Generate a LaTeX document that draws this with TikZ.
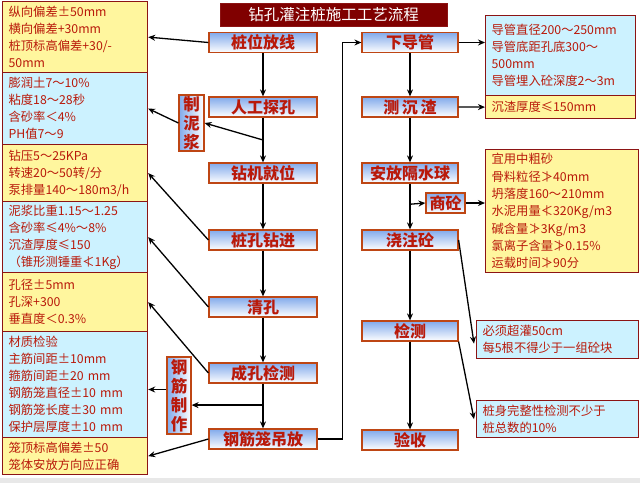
\documentclass[tikz,border=0pt]{standalone}
\usepackage{fontspec}
\setmainfont{Noto Sans CJK SC}
\usetikzlibrary{arrows.meta,calc}
\definecolor{ylw}{RGB}{255,246,158}
\definecolor{cyn}{RGB}{204,242,255}
\definecolor{sborder}{RGB}{140,20,20}
\definecolor{tred}{RGB}{185,25,10}
\definecolor{cborder}{RGB}{190,70,20}
\definecolor{cblue}{RGB}{130,170,235}
\definecolor{ttl}{RGB}{128,0,0}
\begin{document}
\begin{tikzpicture}[x=1pt,y=-1pt,
  sbox/.style={draw=sborder, line width=1.2pt, anchor=north west, align=left, inner xsep=6pt, inner ysep=2pt, text=tred, font=\fontsize{12.3}{17}\selectfont},
  cbox/.style={draw=cborder, line width=1.2pt, top color=cblue, bottom color=white, minimum height=20pt, inner sep=0pt, text=tred, font=\bfseries\fontsize{16}{16}\selectfont},
  vbox/.style={draw=cborder, line width=1.2pt, left color=cblue, right color=white, inner sep=0pt, align=center, text=tred, font=\bfseries\fontsize{16.5}{19}\selectfont},
  arr/.style={-{Stealth[length=7pt,width=6pt]}, line width=1.3pt}]
\useasboundingbox (0,0) rectangle (640,483);
\fill[white] (0,0) rectangle (640,483);
\fill[gray!18] (0,478) rectangle (640,483);

% title
\node[fill=ttl, draw=sborder, minimum width=227pt, minimum height=23pt, inner sep=0pt, text=white, font=\fontsize{15.5}{15.5}\selectfont] (title) at (333.5,14.5) {钻孔灌注桩施工工艺流程};

% left column boxes
\node[sbox, fill=ylw, minimum height=71pt, text width=133pt] (L1) at (2,1) {纵向偏差±50mm\\横向偏差+30mm\\桩顶标高偏差+30/-\\50mm};
\node[sbox, fill=cyn, minimum height=72pt, text width=133pt] (L2) at (2,72) {膨润土7～10\%\\粘度18～28秒\\含砂率＜4\%\\PH值7～9};
\node[sbox, fill=ylw, minimum height=57pt, text width=133pt] (L3) at (2,144) {钻压5～25KPa\\转速20～50转/分\\泵排量140～180m3/h};
\node[sbox, fill=cyn, minimum height=71pt, text width=133pt] (L4) at (2,201) {泥浆比重1.15～1.25\\含砂率≤4\%～8\%\\沉渣厚度≤150\\（锥形测锤重≮1Kg）};
\node[sbox, fill=ylw, minimum height=59pt, text width=133pt] (L5) at (2,272) {孔径±5mm\\孔深+300\\垂直度＜0.3\%};
\node[sbox, fill=cyn, minimum height=106pt, text width=133pt] (L6) at (2,331) {材质检验\\主筋间距±10mm\\箍筋间距±20 mm\\钢筋笼直径±10 mm\\钢筋笼长度±30 mm\\保护层厚度±10 mm};
\node[sbox, fill=ylw, minimum height=37pt, text width=133pt] (L7) at (2,437) {笼顶标高偏差±50\\笼体安放方向应正确};

% right column boxes
\node[sbox, fill=cyn, minimum height=80pt, text width=138pt] (R1) at (485,15) {导管直径200～250mm\\导管底距孔底300～\\500mm\\导管埋入砼深度2～3m};
\node[sbox, fill=ylw, minimum height=23pt, text width=138pt] (R2) at (485,95) {沉渣厚度≤150mm};
\node[sbox, fill=ylw, minimum height=123pt, text width=141pt, font=\fontsize{12.3}{17.3}\selectfont] (R3) at (485,149) {宜用中粗砂\\骨料粒径≯40mm\\坍落度160～210mm\\水泥用量≮320Kg/m3\\碱含量≯3Kg/m3\\氯离子含量≯0.15\%\\运载时间≯90分};
\node[sbox, fill=cyn, minimum height=38pt, text width=150pt] (R4) at (476,320) {必须超灌50cm\\每5根不得少于一组砼块};
\node[sbox, fill=cyn, minimum height=37pt, text width=150pt] (R5) at (476,400) {桩身完整性检测不少于\\桩总数的10\%};

% centre left
\node[cbox, minimum width=108pt] (zwfx) at (263,42.5) {桩位放线};
\node[cbox, minimum width=108pt] (rgtk) at (263,107) {人工探孔};
\node[cbox, minimum width=108pt] (zjjw) at (263,173) {钻机就位};
\node[cbox, minimum width=108pt] (zkzj) at (263,240) {桩孔钻进};
\node[cbox, minimum width=108pt] (qk) at (263,307) {清孔};
\node[cbox, minimum width=108pt] (ckjc) at (263,373) {成孔检测};
\node[cbox, minimum width=108pt] (gjl) at (263,439) {钢筋笼吊放};

% centre right
\node[cbox, minimum width=96pt] (xdg) at (410,42.5) {下导管};
\node[cbox, minimum width=96pt] (ccz) at (410,107) {测\,沉\,渣};
\node[cbox, minimum width=96pt] (afgs) at (410,173) {安放隔水球};
\node[cbox, minimum width=96pt] (jzt) at (410,240) {浇注砼};
\node[cbox, minimum width=96pt] (jc) at (410,331) {检测};
\node[cbox, minimum width=96pt] (ys) at (410,440) {验收};
\node[cbox, minimum width=39pt] (sd) at (445.5,203) {商砼};

% vertical boxes
\node[vbox, minimum width=25pt, minimum height=56pt] (znj) at (191.5,123) {制\\泥\\浆};
\node[vbox, minimum width=24pt, minimum height=77pt] (gjzz) at (179,395.5) {钢\\筋\\制\\作};

% main flow
\draw[arr] (zwfx) -- (rgtk);
\draw[arr] (rgtk) -- (zjjw);
\draw[arr] (zjjw) -- (zkzj);
\draw[arr] (zkzj) -- (qk);
\draw[arr] (qk) -- (ckjc);
\draw[arr] (ckjc) -- (gjl);
\draw[arr] (gjl.east) -- ($(gjl.east)+(25,0)$) |- (xdg.west);
\draw[arr] (xdg) -- (ccz);
\draw[arr] (ccz) -- (afgs);
\draw[arr] (afgs) -- (jzt);
\draw[arr] (jzt) -- (jc);
\draw[arr] (jc) -- (ys);

% branches
\coordinate (b2) at ($(rgtk.south)!0.5!(zjjw.north)$);
\coordinate (b1) at ($(afgs.south)!0.45!(jzt.north)$);
\coordinate (b3) at ($(ckjc.south)!0.48!(gjl.north)$);
\draw[arr] (b2) -- (znj.east);
\draw[arr] (b1) -- (sd.west);
\draw[arr] (b3) -- (b3 -| gjzz.east);

% to side boxes
\draw[arr] (zwfx.west) -- (L1.east);
\draw[arr] (znj.west) -- (L2.east);
\draw[arr] (zkzj.west) -- (L3.east);
\draw[arr] (qk.west) -- (L4.east);
\draw[arr] (ckjc.west) -- (L5.east);
\draw[arr] ([yshift=6pt]gjzz.west) -- ([yshift=6pt]gjzz.west -| L6.east);
\draw[arr] (gjl.west) -- (L7.east);
\draw[arr] (xdg.east) -- (xdg.east -| R1.west);
\draw[arr] (ccz.east) -- (R2.west);
\draw[arr] (sd.east) -- (sd.east -| R3.west);
\draw[arr] (jzt.east) -- ([xshift=-2pt,yshift=-4pt]R4.west);
\draw[arr] (jc.south east) -- ([xshift=-2pt]R5.west);
\end{tikzpicture}
\end{document}
